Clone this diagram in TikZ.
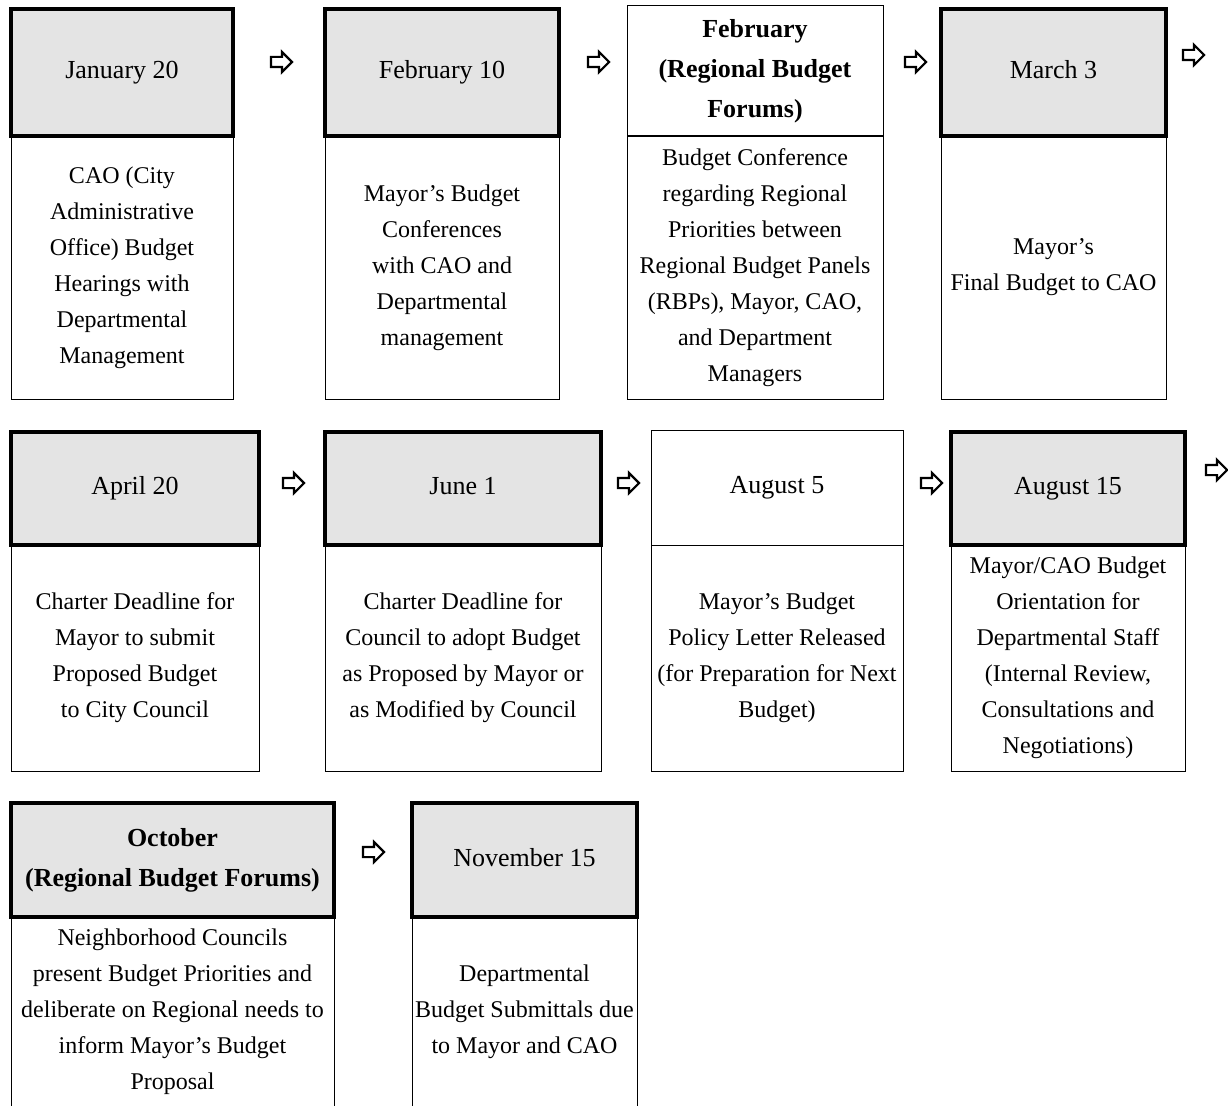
\documentclass[tikz,border=0pt]{standalone}
\usepackage{fontspec}
\setmainfont{Liberation Serif}
\usetikzlibrary{shapes.arrows}
\definecolor{hdrgray}{HTML}{E4E4E4}
\tikzset{
  x=1pt, y=-1pt,
  hdr/.style={draw, line width=4pt, fill=hdrgray, inner sep=0pt, align=center,
    font=\fontsize{26}{36}\selectfont, execute at begin node={\vphantom{Jy}}},
  hdrbold/.style={hdr, font=\fontsize{26}{40}\selectfont\bfseries},
  hdrthin/.style={draw, line width=1pt, fill=white, inner sep=0pt, align=center,
    font=\fontsize{26}{40}\selectfont\bfseries, execute at begin node={\vphantom{Jy}}},
  bodybox/.style={draw, line width=1pt, fill=white, inner sep=0pt, align=center,
    font=\fontsize{24}{36}\selectfont},
  blockarrow/.style={single arrow, draw, line width=2.2pt, fill=white, inner sep=0pt,
    minimum height=21pt, single arrow head extend=5pt, anchor=center}
}
\begin{document}
\begin{tikzpicture}
\useasboundingbox (0,0) rectangle (1228,1105);
\fill[white] (0,0) rectangle (1228,1105);
% ---------- Row 1 ----------
\node[bodybox, minimum width=222, minimum height=263] (b1) at (122,267.5)
  {CAO (City\\Administrative\\Office) Budget\\Hearings with\\Departmental\\Management};
\node[hdr, minimum width=222, minimum height=127] (h1) at (122,72.5) {January 20};

\node[bodybox, minimum width=234, minimum height=263] (b2) at (442,267.5)
  {Mayor’s Budget\\Conferences\\with CAO and\\Departmental\\management};
\node[hdr, minimum width=234, minimum height=127] (h2) at (442,72.5) {February 10};

\node[bodybox, minimum width=256, minimum height=263] (b3) at (755,267.5)
  {Budget Conference\\regarding Regional\\Priorities between\\Regional Budget Panels\\(RBPs), Mayor, CAO,\\and Department\\Managers};
\node[hdrthin, minimum width=256, minimum height=130] (h3) at (755,71)
  {February\\(Regional Budget\\Forums)};

\node[bodybox, minimum width=225, minimum height=263] (b4) at (1053.5,267.5)
  {Mayor’s\\Final Budget to CAO};
\node[hdr, minimum width=225, minimum height=127] (h4) at (1053.5,72.5) {March 3};

% ---------- Row 2 ----------
\node[bodybox, minimum width=248, minimum height=226] (b5) at (135,658)
  {Charter Deadline for\\Mayor to submit\\Proposed Budget\\to City Council};
\node[hdr, minimum width=248, minimum height=113] (h5) at (135,488.5) {April 20};

\node[bodybox, minimum width=276, minimum height=226] (b6) at (463,658)
  {Charter Deadline for\\Council to adopt Budget\\as Proposed by Mayor or\\as Modified by Council};
\node[hdr, minimum width=276, minimum height=113] (h6) at (463,488.5) {June 1};

\node[bodybox, minimum width=252, minimum height=226] (b7) at (777,658)
  {Mayor’s Budget\\Policy Letter Released\\(for Preparation for Next\\Budget)};
\node[hdrthin, font=\fontsize{26}{36}\selectfont, minimum width=252, minimum height=115] (h7) at (777,487.5) {August 5};

\node[bodybox, minimum width=234, minimum height=226] (b8) at (1068,658)
  {Mayor/CAO Budget\\Orientation for\\Departmental Staff\\(Internal Review,\\Consultations and\\Negotiations)};
\node[hdr, minimum width=234, minimum height=113] (h8) at (1068,488.5) {August 15};

% ---------- Row 3 ----------
\node[bodybox, minimum width=323, minimum height=189] (b9) at (172.5,1011.5)
  {Neighborhood Councils\\present Budget Priorities and\\deliberate on Regional needs to\\inform Mayor’s Budget\\Proposal};
\node[hdrbold, minimum width=323, minimum height=114] (h9) at (172.5,860)
  {October\\(Regional Budget Forums)};

\node[bodybox, minimum width=225, minimum height=189] (b10) at (524.5,1011.5)
  {Departmental\\Budget Submittals due\\to Mayor and CAO};
\node[hdr, minimum width=225, minimum height=114] (h10) at (524.5,860) {November 15};

% ---------- Arrows ----------
\node[blockarrow] (a1) at (279,62) {\rule{0pt}{8pt}};
\node[blockarrow] (a2) at (596,62) {\rule{0pt}{8pt}};
\node[blockarrow] (a3) at (913,62) {\rule{0pt}{8pt}};
\node[blockarrow] (a4) at (1191,55) {\rule{0pt}{8pt}};
\node[blockarrow] (a5) at (291,483) {\rule{0pt}{8pt}};
\node[blockarrow] (a6) at (626,483) {\rule{0pt}{8pt}};
\node[blockarrow] (a7) at (929,483) {\rule{0pt}{8pt}};
\node[blockarrow] (a8) at (1214,470) {\rule{0pt}{8pt}};
\node[blockarrow] (a9) at (371,852) {\rule{0pt}{8pt}};
\end{tikzpicture}
\end{document}
